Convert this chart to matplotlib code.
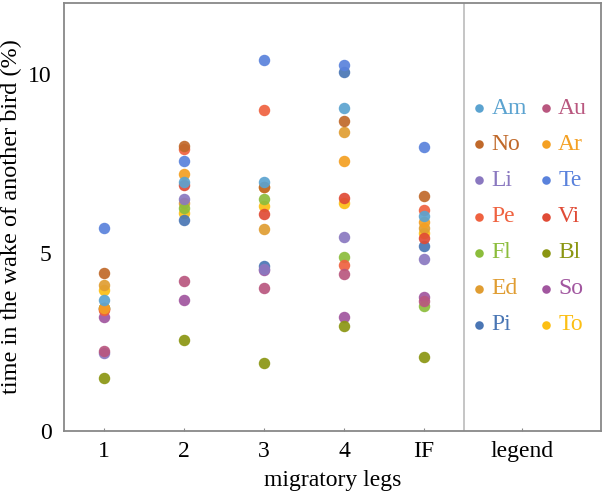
import matplotlib
matplotlib.use("Agg")
import matplotlib.pyplot as plt

plt.rcParams["font.family"] = ["Liberation Serif", "DejaVu Serif"]

legs = ["1", "2", "3", "4", "IF"]
birds = ["Am", "Au", "No", "Ar", "Li", "Te", "Pe", "Vi", "Fl", "Bl", "Ed", "So", "Pi", "To"]
colors = {
    "Am": "#5ba3d0", "Au": "#b9577f", "No": "#c0692a", "Ar": "#f4a023",
    "Li": "#8a78c0", "Te": "#5a82dc", "Pe": "#ef6240", "Vi": "#e04b36",
    "Fl": "#8cbd3c", "Bl": "#8b9612", "Ed": "#e09d32", "So": "#a1569f",
    "Pi": "#4a76b4", "To": "#fcbf14",
}

# time in the wake of another bird (%) per leg: 1, 2, 3, 4, IF
wake = {
    "Am": [3.67, 6.97, 6.99, 9.05, 6.02],
    "Au": [2.25, 4.20, 4.02, 4.40, 3.65],
    "No": [4.42, 7.98, 6.85, 8.68, 6.58],
    "Ar": [3.44, 7.20, 6.85, 7.58, 5.85],
    "Li": [2.18, 6.50, 4.55, 5.45, 4.83],
    "Te": [5.70, 7.58, 10.41, 10.25, 7.95],
    "Pe": [3.40, 7.90, 9.00, 4.66, 6.20],
    "Vi": [3.42, 6.90, 6.09, 6.53, 5.40],
    "Fl": [3.44, 6.25, 6.50, 4.89, 3.50],
    "Bl": [1.48, 2.55, 1.92, 2.95, 2.07],
    "Ed": [4.09, 6.38, 5.66, 8.38, 5.70],
    "So": [3.21, 3.67, 4.52, 3.21, 3.77],
    "Pi": [3.46, 5.92, 4.64, 10.07, 5.20],
    "To": [3.95, 6.10, 6.32, 6.39, 5.55],
}

fig = plt.figure(figsize=(6.03, 4.91), dpi=100)
ax = fig.add_axes([0.1061, 0.1222, 0.8905, 0.8717])

xs = range(1, len(legs) + 1)
for b in reversed(birds):
    ax.scatter(xs, wake[b], s=68, color=colors[b], alpha=0.92,
               linewidths=0, zorder=3)

# legend panel drawn inside the axes, two columns
for i, b in enumerate(birds):
    row, col = divmod(i, 2)
    y = 9.05 - 1.013 * row
    xd = 5.69 if col == 0 else 6.525
    ax.scatter([xd], [y], s=38, color=colors[b], linewidths=0, zorder=3)
    ax.text(xd + 0.15, y, b, color=colors[b], fontsize=17,
            va="center", ha="left")

ax.axvline(5.5, color="#bbbbbb", lw=1.2)

ax.set_xlim(0.5, 7.21)
ax.set_ylim(0, 12)
ax.set_xticks(list(xs) + [6.22])
ax.set_xticklabels(legs + ["legend"])
ax.set_yticks([0, 5, 10])
ax.tick_params(direction="in", length=2, color="#888888", labelsize=17, pad=7)
ax.tick_params(axis="y", length=0, pad=9)
for sp in ax.spines.values():
    sp.set_color("#888888")
    sp.set_linewidth(1.3)

ax.set_xlabel("migratory legs", fontsize=17, labelpad=6)
ax.set_ylabel("time in the wake of another bird (%)", fontsize=17.5, labelpad=4)

fig.savefig("out.png", dpi=100)
